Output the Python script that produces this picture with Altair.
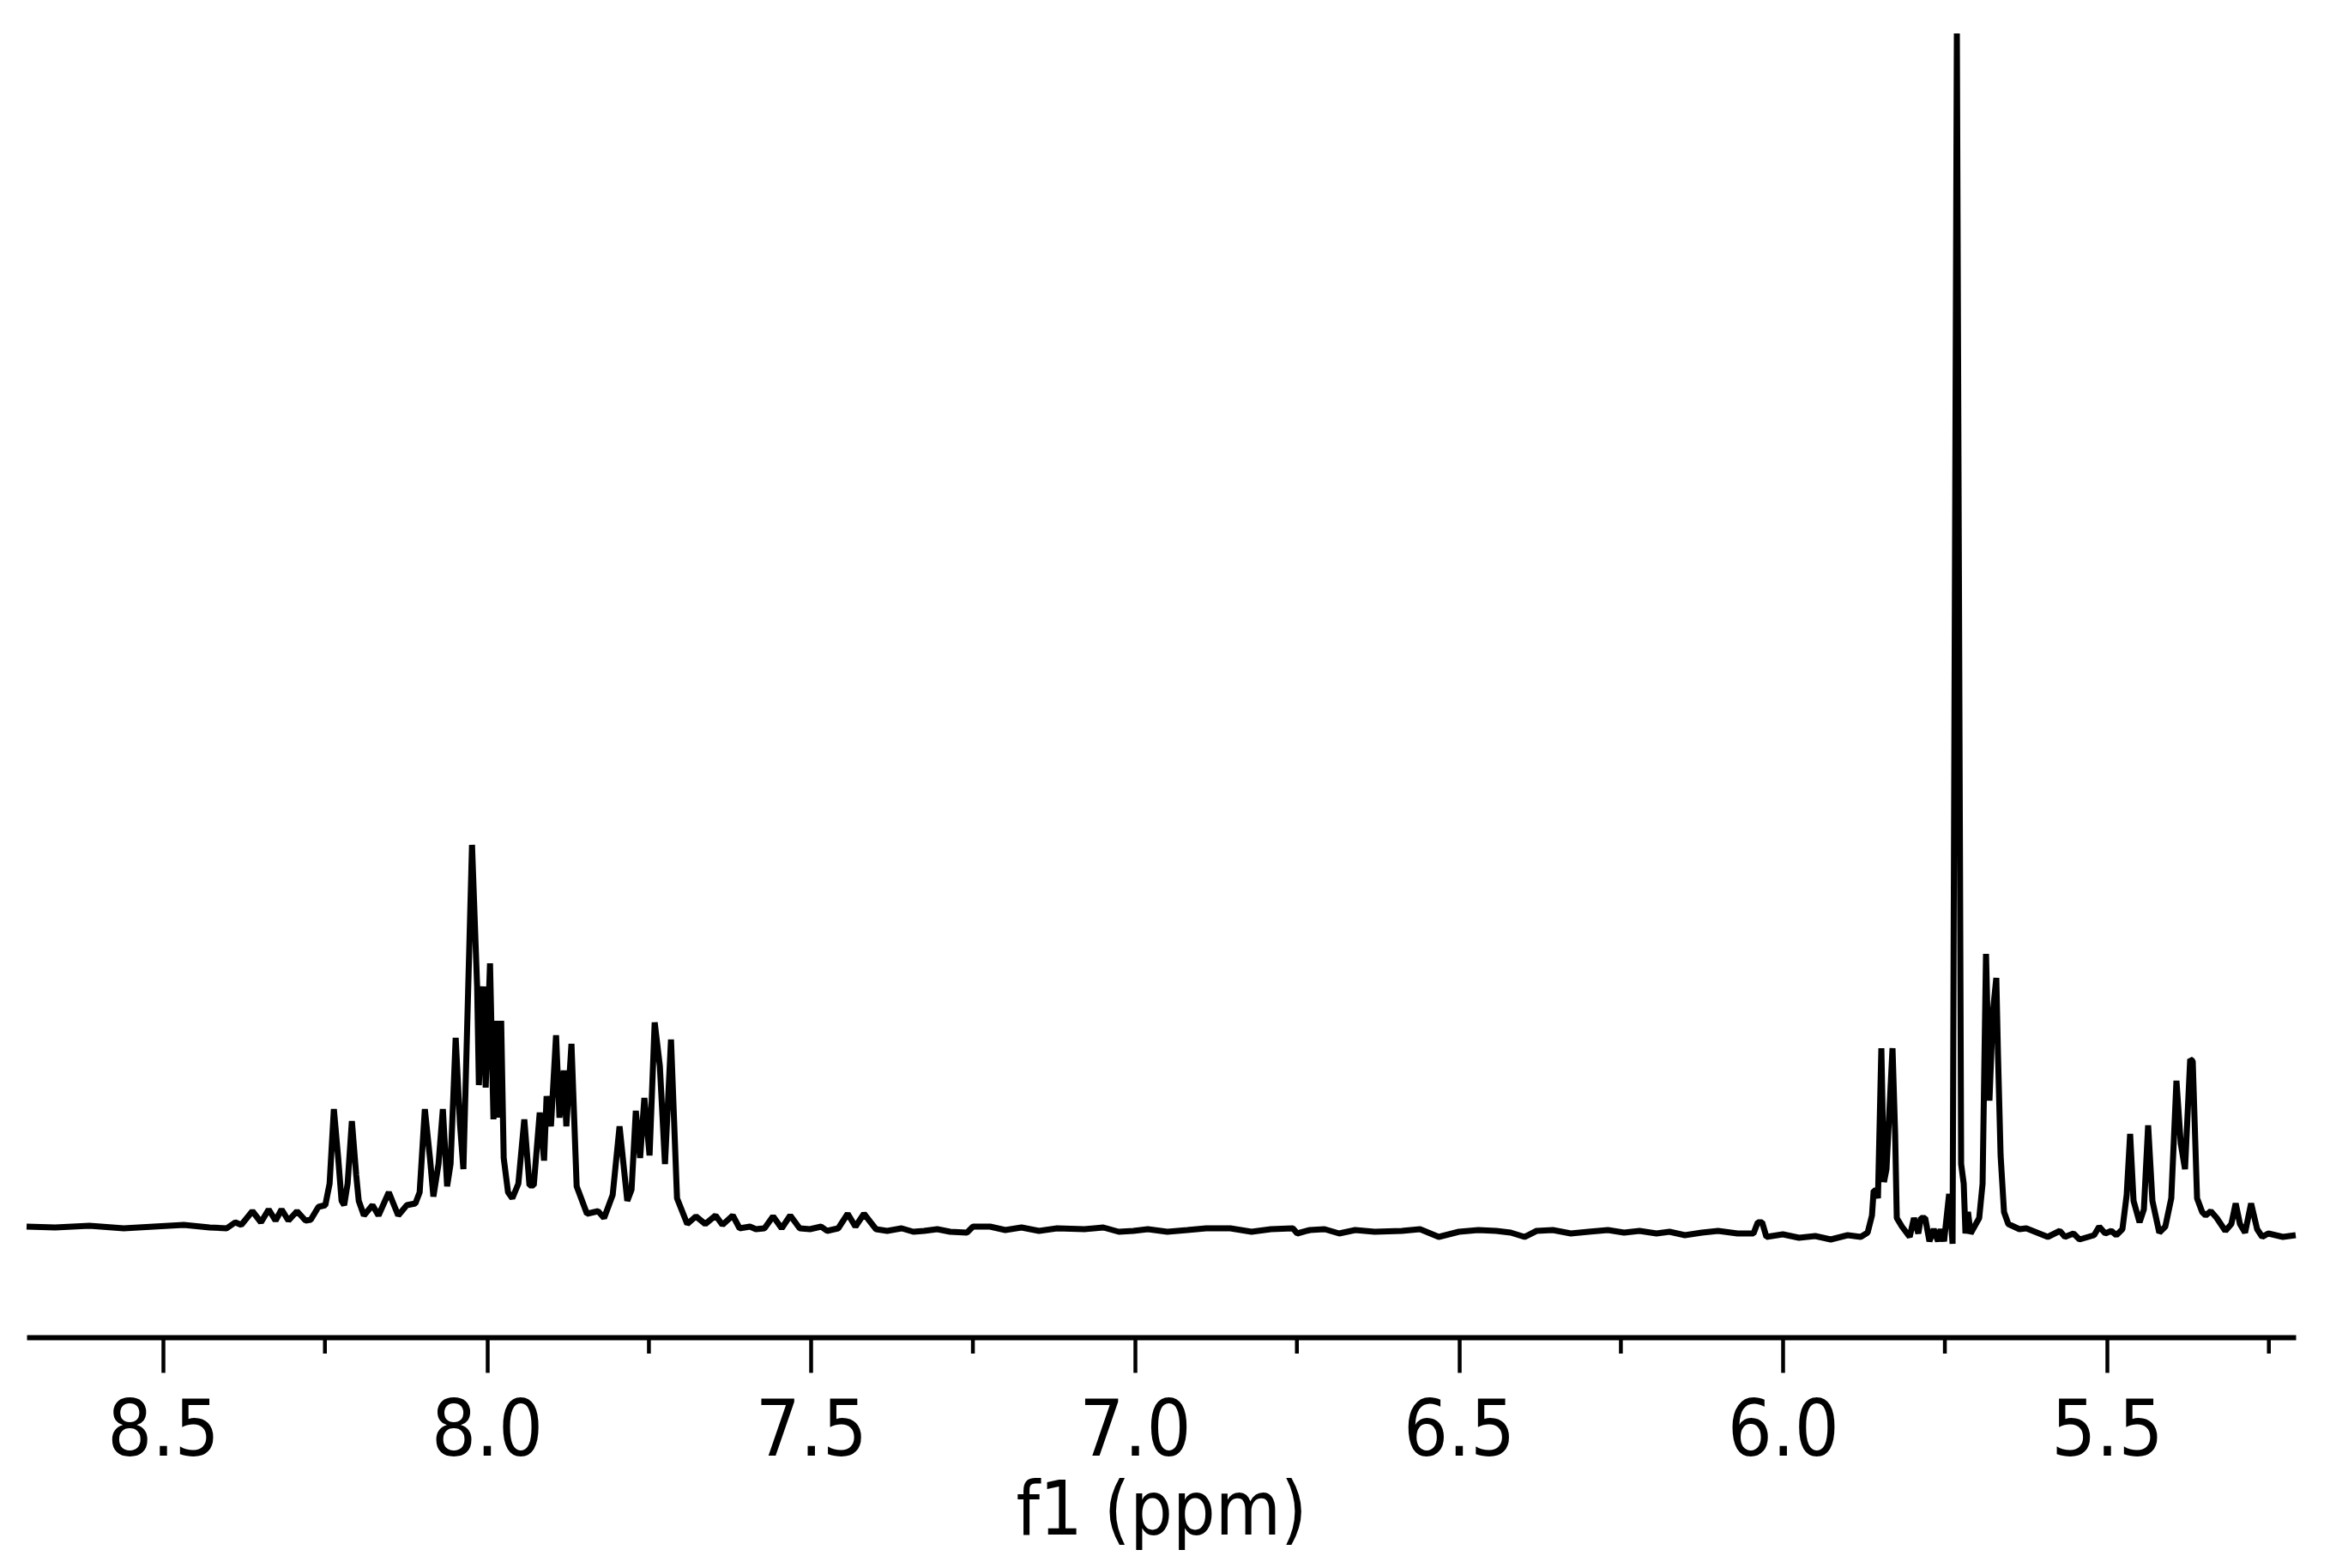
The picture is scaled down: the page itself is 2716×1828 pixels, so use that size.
import altair as alt
import pandas as pd

# Chemical shift (ppm) of each vertex of the spectrum trace
ppm = [
    8.7104, 8.6664, 8.6134, 8.5605, 8.5142, 8.4678, 8.4281, 8.4016, 8.3884, 8.3791,
    8.3619, 8.3487, 8.3368, 8.3262, 8.3169, 8.3063, 8.2931, 8.2799, 8.2719, 8.2600,
    8.2494, 8.2428, 8.2362, 8.2295, 8.2243, 8.2203, 8.2150, 8.2084, 8.2017, 8.1978,
    8.1898, 8.1766, 8.1673, 8.1514, 8.1369, 8.1236, 8.1104, 8.1038, 8.0958, 8.0879,
    8.0826, 8.0747, 8.0680, 8.0614, 8.0561, 8.0482, 8.0416, 8.0363, 8.0230, 8.0151,
    8.0124, 8.0058, 8.0019, 7.9952, 7.9899, 7.9846, 7.9807, 7.9780, 7.9741, 7.9674,
    7.9608, 7.9515, 7.9423, 7.9343, 7.9277, 7.9185, 7.9118, 7.9079, 7.9012, 7.8933,
    7.8880, 7.8814, 7.8774, 7.8695, 7.8615, 7.8456, 7.8284, 7.8192, 7.8059, 7.7953,
    7.7834, 7.7768, 7.7702, 7.7636, 7.7570, 7.7490, 7.7411, 7.7331, 7.7252, 7.7159,
    7.7066, 7.6908, 7.6775, 7.6630, 7.6471, 7.6365, 7.6206, 7.6100, 7.5941, 7.5849,
    7.5716, 7.5584, 7.5451, 7.5319, 7.5173, 7.5015, 7.4842, 7.4750, 7.4578, 7.4432,
    7.4313, 7.4181, 7.3995, 7.3823, 7.3600, 7.3420, 7.3254, 7.3050, 7.2850, 7.2592,
    7.2499, 7.2235, 7.2000, 7.1750, 7.1480, 7.1200, 7.0778, 7.0487, 7.0250, 7.0024,
    6.9800, 6.9500, 6.9190, 6.8900, 6.8528, 6.8200, 6.7900, 6.7562, 6.7495, 6.7300,
    6.7072, 6.6847, 6.6600, 6.6300, 6.5880, 6.5600, 6.5311, 6.5000, 6.4700, 6.4424,
    6.4200, 6.3987, 6.3802, 6.3550, 6.3272, 6.3000, 6.2700, 6.2450, 6.2213, 6.1950,
    6.1750, 6.1512, 6.1250, 6.1000, 6.0700, 6.0453, 6.0387, 6.0320, 6.0254, 6.0000,
    5.9751, 5.9500, 5.9261, 5.9000, 5.8798, 5.8692, 5.8625, 5.8599, 5.8559, 5.8533,
    5.8480, 5.8440, 5.8401, 5.8308, 5.8268, 5.8242, 5.8162, 5.8043, 5.7977, 5.7910,
    5.7871, 5.7804, 5.7738, 5.7672, 5.7606, 5.7566, 5.7513, 5.7434, 5.7381, 5.7315,
    5.7249, 5.7209, 5.7182, 5.7143, 5.7103, 5.6970, 5.6918, 5.6865, 5.6812, 5.6759,
    5.6706, 5.6680, 5.6640, 5.6587, 5.6521, 5.6349, 5.6243, 5.5912, 5.5726, 5.5647,
    5.5515, 5.5422, 5.5197, 5.5118, 5.5025, 5.4932, 5.4853, 5.4760, 5.4694, 5.4641,
    5.4588, 5.4495, 5.4429, 5.4363, 5.4297, 5.4191, 5.4098, 5.4006, 5.3926, 5.3860,
    5.3794, 5.3714, 5.3675, 5.3608, 5.3529, 5.3476, 5.3396, 5.3304, 5.3171, 5.3079,
    5.3012, 5.2946, 5.2867, 5.2774, 5.2681, 5.2602, 5.2509, 5.2284, 5.2086,
]

# Signal intensity (arbitrary units) at each vertex
intensity = [
    0, -1, 1, -2, 0, 2, -1, -2, 5, 2,
    18, 5, 20, 7, 20, 7, 18, 7, 8, 23,
    25, 50, 137, 80, 30, 25, 50, 123, 60, 30,
    13, 25, 13, 40, 13, 25, 27, 40, 137, 80,
    35, 73, 137, 47, 73, 220, 120, 67, 445, 280,
    165, 280, 162, 307, 125, 240, 127, 240, 80, 40,
    33, 50, 125, 48, 48, 133, 77, 152, 117, 223,
    127, 182, 117, 213, 47, 15, 18, 10, 37, 117,
    30, 43, 135, 80, 150, 83, 238, 187, 73, 218,
    33, 3, 12, 3, 13, 2, 13, -2, 0, -3,
    -2, 12, -2, 13, -2, -3, 0, -5, -2, 15,
    0, 15, -3, -5, -2, -6, -5, -3, -6, -7,
    0, 0, -4, -1, -5, -2, -3, -1, -6, -5,
    -3, -6, -4, -2, -2, -6, -3, -2, -8, -4,
    -3, -8, -4, -6, -5, -3, -12, -6, -4, -5,
    -7, -12, -5, -4, -8, -6, -4, -7, -5, -8,
    -6, -10, -7, -5, -8, -8, 5, 5, -12, -9,
    -13, -11, -15, -10, -12, -7, 13, 42, 42, 33,
    208, 52, 67, 208, 110, 10, 0, -12, 10, -8,
    10, 10, -17, -3, -17, -3, -17, 38, -20, 1391,
    73, 50, -8, 17, -8, 10, 50, 318, 147, 250,
    290, 200, 83, 17, 3, -3, -2, -12, -5, -12,
    -8, -15, -10, 0, -8, -5, -10, -3, 37, 108,
    30, 5, 20, 118, 30, -7, 0, 33, 170, 97,
    67, 195, 193, 33, 17, 13, 18, 10, -5, 3,
    27, 3, -7, 27, -3, -12, -8, -12, -10,
]

major_ticks = [8.5, 8.0, 7.5, 7.0, 6.5, 6.0, 5.5]
minor_ticks = [8.25, 7.75, 7.25, 6.75, 6.25, 5.75, 5.25]

W = 2645
H = 1539
LABEL_FONT = "DejaVu Sans Condensed, DejaVu Sans"
TITLE_FONT = "DejaVu Sans Condensed, DejaVu Sans"

spec = pd.DataFrame({"ppm": ppm, "intensity": intensity})
minor = pd.DataFrame({"ppm": minor_ticks})

x_scale = alt.Scale(domain=[8.7104, 5.2086], nice=False, zero=False)
y_scale = alt.Scale(domain=[-129, 1410], nice=False, zero=False)

x_axis = alt.Axis(
    values=major_ticks,
    format=".1f",
    title="f1 (ppm)",
    grid=False,
    domainColor="black",
    domainWidth=6,
    tickColor="black",
    tickWidth=4.5,
    tickSize=41,
    labelFont=LABEL_FONT,
    labelFontSize=91,
    labelColor="black",
    labelPadding=24,
    labelFlush=False,
    labelOverlap=False,
    titleFont=TITLE_FONT,
    titleFontSize=87,
    titleFontWeight="normal",
    titleColor="black",
    titlePadding=5,
)

line = alt.Chart(spec).mark_line(
    color="black", strokeWidth=7, strokeJoin="bevel"
).encode(
    x=alt.X("ppm:Q", scale=x_scale, axis=x_axis),
    y=alt.Y("intensity:Q", scale=y_scale, axis=None),
    order=alt.Order("ppm:Q", sort="descending"),
)

minor_rules = alt.Chart(minor).mark_rule(color="black", strokeWidth=4.5).encode(
    x=alt.X("ppm:Q", scale=x_scale, axis=x_axis),
    y=alt.value(H),
    y2=alt.value(H + 19),
)

chart = (
    alt.layer(line, minor_rules)
    .properties(
        width=W,
        height=H,
        padding={"left": 19, "top": 12, "right": 5, "bottom": 5},
        background="white",
    )
    .configure_view(stroke=None)
)

chart.save("out.html", embed_options={"renderer": "svg", "actions": False})
